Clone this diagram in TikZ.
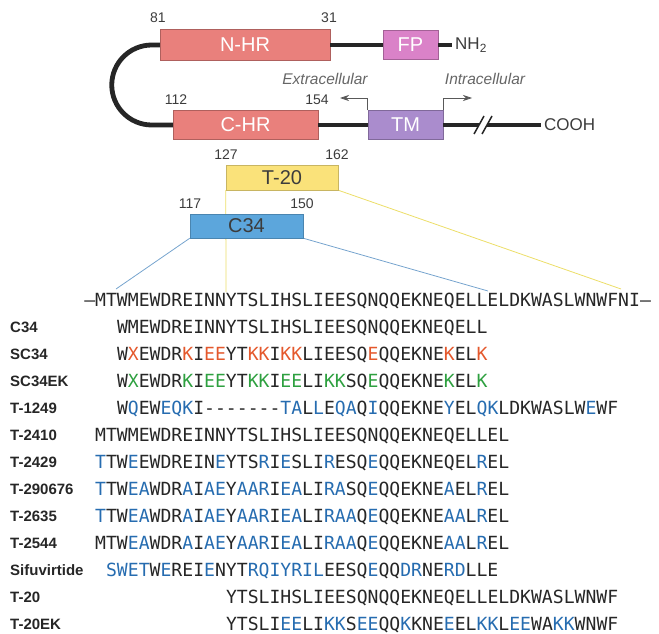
\documentclass[tikz,border=0pt]{standalone}
\usepackage{fontspec}
\setmainfont{Liberation Sans}
\setmonofont{DejaVu Sans Mono}
\usetikzlibrary{arrows.meta, positioning, calc, backgrounds}

\definecolor{hrred}{RGB}{233,128,124}
\definecolor{fppink}{RGB}{218,130,200}
\definecolor{tmpurple}{RGB}{170,140,205}
\definecolor{t20yellow}{RGB}{250,226,122}
\definecolor{c34blue}{RGB}{92,166,220}
\definecolor{resred}{RGB}{228,88,44}
\definecolor{resgreen}{RGB}{46,160,64}
\definecolor{resblue}{RGB}{38,108,176}
\definecolor{txtgray}{RGB}{60,60,60}
\definecolor{spanyellow}{RGB}{236,222,104}
\definecolor{spanblue}{RGB}{118,164,206}

\newcommand{\rR}[1]{\textcolor{resred}{#1}}
\newcommand{\rG}[1]{\textcolor{resgreen}{#1}}
\newcommand{\rB}[1]{\textcolor{resblue}{#1}}

\begin{document}
\begin{tikzpicture}[
            x=1pt, y=-1pt,
            % styles
            domain/.style={rectangle, draw=#1!75!black, fill=#1, line width=0.5pt, text=white, inner sep=0pt, font=\fontsize{20}{24}\selectfont},
            peptide/.style={rectangle, draw=#1!80!black, fill=#1, line width=0.4pt, text=txtgray, inner sep=0pt, font=\fontsize{20}{24}\selectfont},
            num/.style={inner sep=0pt, text=txtgray, font=\fontsize{14}{16}\selectfont},
            side/.style={inner sep=0pt, text=black!60, font=\itshape\fontsize{15.5}{18}\selectfont},
            term/.style={anchor=west, inner sep=3pt, text=txtgray, font=\fontsize{17}{20}\selectfont},
            chain/.style={line width=4.8pt, draw=black!85},
            cut/.style={line width=1.5pt, draw=black!85},
            flow/.style={draw=black!65, line width=0.7pt, -{Stealth[length=9pt, width=6pt]}},
            seq/.style={anchor=base west, inner sep=0pt, text=black!85, font=\ttfamily\fontsize{18.1}{20}\selectfont},
            rowlab/.style={anchor=base west, inner sep=0pt, text=black!85, font=\bfseries\fontsize{15}{17}\selectfont}
        ]
        \useasboundingbox (0,0) rectangle (659,634);

        % gp41 domains
        \node (nhr) [domain=hrred, minimum width=170pt, minimum height=31pt] at (245,45) {N-HR};
        \node (fp)  [domain=fppink, minimum width=55pt, minimum height=29pt] at (410.5,45) {FP};
        \node (chr) [domain=hrred, minimum width=145pt, minimum height=29pt] at (245.5,125) {C-HR};
        \node (tm)  [domain=tmpurple, minimum width=75pt, minimum height=29pt] at (405.5,125) {TM};
        \node (nh2) [term] at (452,45) {NH\textsubscript{2}};
        \node (cooh) [term] at (541,125) {COOH};

        % residue numbers
        \node (n81)  [num] at (158,18) {81};
        \node (n31)  [num] at (329,18) {31};
        \node (n112) [num] at (176,100) {112};
        \node (n154) [num] at (317,100) {154};
        \node (n127) [num] at (226,155) {127};
        \node (n162) [num] at (337,155) {162};
        \node (n117) [num] at (190,204) {117};
        \node (n150) [num] at (302,204) {150};

        \node (extra) [side] at (325,79) {Extracellular};
        \node (intra) [side] at (485,79) {Intracellular};

        % peptides
        \node (t20) [peptide=t20yellow, minimum width=112pt, minimum height=25pt] at (282,177.5) {T-20};
        \node (c34) [peptide=c34blue, minimum width=113pt, minimum height=24pt] at (246.5,226) {C34};

        % backbone
        \draw [chain] (nhr.east) -- (fp.west);
        \draw [chain] (fp.east) -- (nh2.west);
        \draw [chain] (nhr.west) -- ++(-8,0) arc[start angle=90, end angle=270, radius=40pt] -- (chr.west);
        \draw [chain] (chr.east) -- (tm.west);
        \coordinate (brk1) at (479,125);
        \coordinate (brk2) at (487,125);
        \draw [chain] (tm.east) -- (brk1);
        \draw [chain] (brk2) -- (cooh.west);
        \draw [cut] ($(brk1)+(-5,9)$) -- ($(brk1)+(5,-9)$);
        \draw [cut] ($(brk2)+(-5,9)$) -- ($(brk2)+(5,-9)$);

        % membrane sides
        \coordinate (exl) at (340,98);
        \coordinate (inr) at (472,98);
        \draw [flow] (tm.north west) |- (exl);
        \draw [flow] (tm.north east) |- (inr);

        % sequence alignment, one column = 10.9pt
        \node (wt) [seq] at (95-10.9,306) {—MTWMEWDREINNYTSLIHSLIEESQNQQEKNEQELLELDKWASLWNWFNI—};

        \node (l1)  [rowlab] at (10,332) {C34};
        \node (s1)  [seq] at (95+2*10.9,333) {WMEWDREINNYTSLIHSLIEESQNQQEKNEQELL};
        \node (l2)  [rowlab] at (10,359) {SC34};
        \node (s2)  [seq] at (95+2*10.9,360) {W\rR{X}EWDR\rR{K}I\rR{EE}YT\rR{KK}I\rR{KK}LIEESQ\rR{E}QQEKNE\rR{K}EL\rR{K}};
        \node (l3)  [rowlab] at (10,386) {SC34EK};
        \node (s3)  [seq] at (95+2*10.9,387) {W\rG{X}EWDR\rG{K}I\rG{EE}YT\rG{KK}I\rG{EE}LI\rG{KK}SQ\rG{E}QQEKNE\rG{K}EL\rG{K}};
        \node (l4)  [rowlab] at (10,413) {T-1249};
        \node (s4)  [seq] at (95+2*10.9,414) {W\rB{Q}EW\rB{EQK}I-------\rB{TA}L\rB{L}E\rB{QA}Q\rB{I}QQEKNE\rB{Y}EL\rB{QK}LDKWASLW\rB{E}WF};
        \node (l5)  [rowlab] at (10,440) {T-2410};
        \node (s5)  [seq] at (95,441) {MTWMEWDREINNYTSLIHSLIEESQNQQEKNEQELLEL};
        \node (l6)  [rowlab] at (10,467) {T-2429};
        \node (s6)  [seq] at (95,468) {\rB{T}TW\rB{E}EWDREIN\rB{E}YTS\rB{R}I\rB{E}SLI\rB{R}ESQ\rB{E}QQEKNEQEL\rB{R}EL};
        \node (l7)  [rowlab] at (10,494) {T-290676};
        \node (s7)  [seq] at (95,495) {\rB{T}TW\rB{EA}WDR\rB{A}I\rB{AE}Y\rB{AAR}I\rB{EA}LI\rB{RA}SQ\rB{E}QQEKNE\rB{A}EL\rB{R}EL};
        \node (l8)  [rowlab] at (10,521) {T-2635};
        \node (s8)  [seq] at (95,522) {\rB{T}TW\rB{EA}WDR\rB{A}I\rB{AE}Y\rB{AAR}I\rB{EA}LI\rB{RAA}Q\rB{E}QQEKNE\rB{AA}L\rB{R}EL};
        \node (l9)  [rowlab] at (10,548) {T-2544};
        \node (s9)  [seq] at (95,549) {MTW\rB{EA}WDR\rB{A}I\rB{AE}Y\rB{AAR}I\rB{EA}LI\rB{RAA}Q\rB{E}QQEKNE\rB{AA}L\rB{R}EL};
        \node (l10) [rowlab] at (10,575) {Sifuvirtide};
        \node (s10) [seq] at (95+10.9,576) {\rB{SWET}W\rB{E}REI\rB{E}NYT\rB{RQIYRIL}EESQ\rB{E}QQ\rB{DR}NE\rB{RD}LLE};
        \node (l11) [rowlab] at (10,602) {T-20};
        \node (s11) [seq] at (95+12*10.9,603) {YTSLIHSLIEESQNQQEKNEQELLELDKWASLWNWF};
        \node (l12) [rowlab] at (10,629) {T-20EK};
        \node (s12) [seq] at (95+12*10.9,630) {YTSLI\rB{EE}LI\rB{KK}S\rB{EE}QQ\rB{K}KNE\rB{E}EL\rB{KK}L\rB{EE}WA\rB{KK}WNWF};

        % peptide spans onto the sequence
        \coordinate (ty) at (226,292);
        \coordinate (tf) at (621,289);
        \coordinate (cw) at (116,289);
        \coordinate (cl) at (488,291);
        \begin{scope}[on background layer]
        \draw [spanyellow, line width=0.8pt] (t20.south west) -- (ty);
        \draw [spanyellow, line width=0.8pt] (t20.south east) -- (tf);
        \draw [spanblue, line width=0.8pt] (c34.south west) -- (cw);
        \draw [spanblue, line width=0.8pt] (c34.south east) -- (cl);
        \end{scope}

        \end{tikzpicture}
\end{document}
